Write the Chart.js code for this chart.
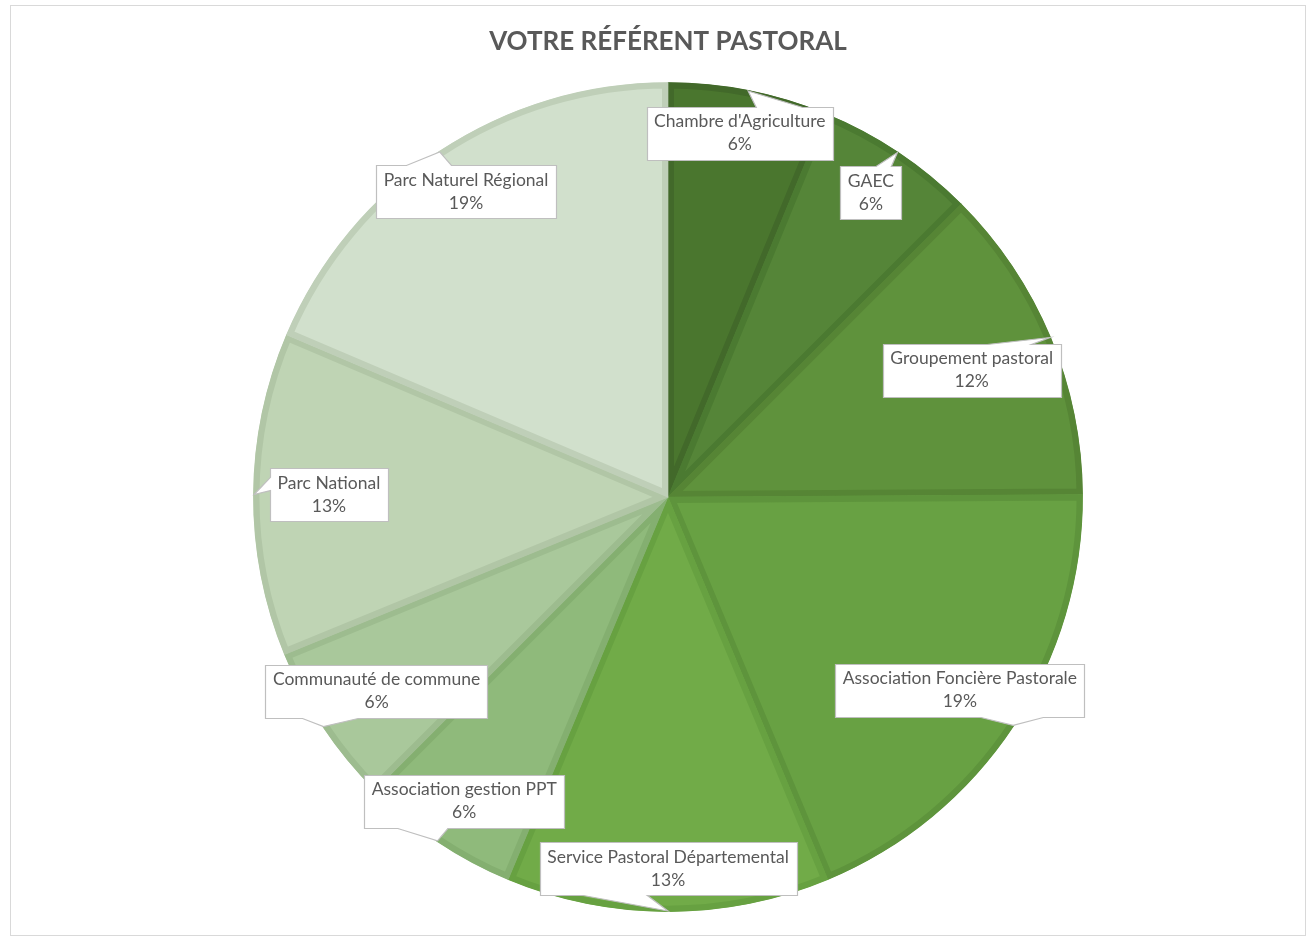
<!DOCTYPE html>
<html lang="fr">
<head>
<meta charset="utf-8">
<title>Votre référent pastoral</title>
<script src="https://cdn.jsdelivr.net/npm/chart.js@4.4.1/dist/chart.umd.min.js"></script>
<style>
  html, body { margin: 0; padding: 0; background: #ffffff; }
  #wrap { position: relative; width: 1309px; height: 937px; }
</style>
</head>
<body>
<div id="wrap"><canvas id="chart"></canvas></div>
<script>
// Categories, clockwise from 12 o'clock
const categories = [
  "Chambre d'Agriculture",
  "GAEC",
  "Groupement pastoral",
  "Association Foncière Pastorale",
  "Service Pastoral Départemental",
  "Association gestion PPT",
  "Communauté de commune",
  "Parc National",
  "Parc Naturel Régional",
];

// Shares in percent (consistent with the rounded labels)
const shares = [6.2, 6.3, 12.4, 18.8, 12.6, 6.2, 6.3, 12.6, 18.6];

// Slice fills and their slightly darker outlines
const fillColors = [
  "#4a762e", "#558538", "#5f923c", "#68a143", "#71ab48",
  "#8fba7b", "#a9c89b", "#bfd4b4", "#d1e0cc",
];
const edgeColors = [
  "#42692a", "#4b7a31", "#568535", "#5e943c", "#67a141",
  "#84af70", "#9dbc8f", "#b1c6a6", "#bfcfb8",
];

const textColor = "#595959";
const labelFont = "17.5px Lato";

// Light grey frame round the whole chart
const framePlugin = {
  id: "frame",
  beforeDraw(chart) {
    const ctx = chart.ctx;
    ctx.save();
    ctx.strokeStyle = "#d9d9d9";
    ctx.lineWidth = 1;
    ctx.strokeRect(10.5, 5.5, 1295, 930);
    ctx.restore();
  },
};

// Excel-like "data callout": white box with a wedge pointing at the pie edge
const calloutPlugin = {
  id: "callouts",
  afterDatasetsDraw(chart) {
    const ctx = chart.ctx;
    const meta = chart.getDatasetMeta(0);
    const total = shares.reduce((s, v) => s + v, 0);

    ctx.save();
    ctx.font = labelFont;
    meta.data.forEach((arc, i) => {
      const p = arc.getProps(["x", "y", "startAngle", "endAngle", "outerRadius"], true);
      const mid = (p.startAngle + p.endAngle) / 2;
      const ux = Math.cos(mid);
      const uy = Math.sin(mid);
      const R = p.outerRadius;

      const lines = [categories[i], Math.round((shares[i] / total) * 100) + "%"];
      const lineH = 23;
      const w = Math.max(...lines.map((l) => ctx.measureText(l).width)) + 15;
      const h = lines.length * lineH + 7;

      // distance from box centre to its border along the slice direction
      const ex = Math.abs(ux) > 1e-6 ? w / 2 / Math.abs(ux) : Infinity;
      const ey = Math.abs(uy) > 1e-6 ? h / 2 / Math.abs(uy) : Infinity;
      const t = R - 17 - Math.min(ex, ey);

      const cx = p.x + ux * t;
      const cy = p.y + uy * t;
      const tipX = p.x + ux * (R - 1);
      const tipY = p.y + uy * (R - 1);
      const left = Math.round(cx - w / 2) + 0.5;
      const top = Math.round(cy - h / 2) + 0.5;
      const right = left + Math.round(w);
      const bottom = top + Math.round(h);

      const dx = tipX - cx;
      const dy = tipY - cy;
      const sideways = Math.abs(dx) * h / w > Math.abs(dy);

      ctx.beginPath();
      ctx.moveTo(left, top);
      if (!sideways && dy < 0) {
        const a = dx > 0 ? 7 / 12 : 2 / 12;
        ctx.lineTo(left + w * a, top);
        ctx.lineTo(tipX, tipY);
        ctx.lineTo(left + w * (a + 3 / 12), top);
      }
      ctx.lineTo(right, top);
      if (sideways && dx > 0) {
        const a = dy > 0 ? 7 / 12 : 2 / 12;
        ctx.lineTo(right, top + h * a);
        ctx.lineTo(tipX, tipY);
        ctx.lineTo(right, top + h * (a + 3 / 12));
      }
      ctx.lineTo(right, bottom);
      if (!sideways && dy >= 0) {
        const a = dx > 0 ? 7 / 12 : 2 / 12;
        ctx.lineTo(left + w * (a + 3 / 12), bottom);
        ctx.lineTo(tipX, tipY);
        ctx.lineTo(left + w * a, bottom);
      }
      ctx.lineTo(left, bottom);
      if (sideways && dx <= 0) {
        const a = dy > 0 ? 7 / 12 : 2 / 12;
        ctx.lineTo(left, top + h * (a + 3 / 12));
        ctx.lineTo(tipX, tipY);
        ctx.lineTo(left, top + h * a);
      }
      ctx.closePath();
      ctx.fillStyle = "#ffffff";
      ctx.fill();
      ctx.strokeStyle = "#bfbfbf";
      ctx.lineWidth = 1.2;
      ctx.stroke();

      ctx.fillStyle = textColor;
      ctx.textAlign = "center";
      ctx.textBaseline = "middle";
      lines.forEach((l, k) => {
        ctx.fillText(l, cx, cy + (k - (lines.length - 1) / 2) * lineH);
      });
    });
    ctx.restore();
  },
};

const ctx = document.getElementById("chart").getContext("2d");

new Chart(ctx, {
  type: "pie",
  data: {
    labels: categories,
    datasets: [
      {
        data: shares,
        backgroundColor: fillColors,
        borderColor: edgeColors,
        borderWidth: 6,
        borderAlign: "inner",
      },
    ],
  },
  options: {
    responsive: true,
    maintainAspectRatio: false,
    animation: false,
    events: [],
    layout: {
      padding: { left: 27, right: 0, top: 0, bottom: 25 },
    },
    plugins: {
      legend: { display: false },
      tooltip: { enabled: false },
      title: {
        display: true,
        text: "VOTRE RÉFÉRENT PASTORAL",
        color: textColor,
        font: { family: "Lato", size: 26, weight: "bold" },
        padding: { top: 26, bottom: 25 },
      },
    },
  },
  plugins: [framePlugin, calloutPlugin],
});
</script>
</body>
</html>
